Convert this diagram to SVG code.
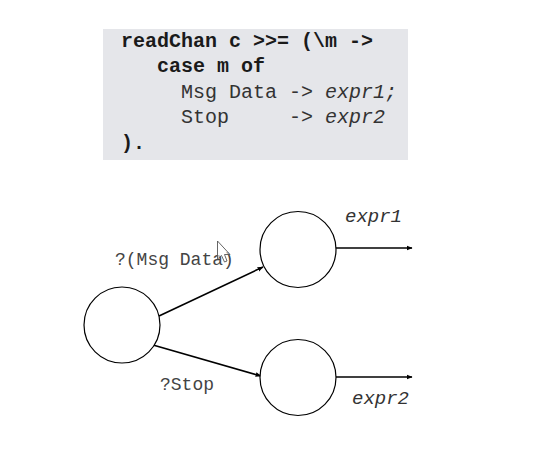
<svg xmlns="http://www.w3.org/2000/svg" width="550" height="468" viewBox="0 0 550 468">
<style>
.code{font-family:"Liberation Mono","Courier New",monospace;font-size:20px;fill:#333}
.b{font-weight:bold;fill:#1a1a1a}
.i{font-style:italic}
.lbl{font-family:"Liberation Mono","Courier New",monospace;font-size:18px;fill:#444}
.ex{font-family:"Liberation Mono","Courier New",monospace;font-size:19px;font-style:italic;fill:#333}
.node{fill:#fff;stroke:#000;stroke-width:1.2}
.edge{stroke:#000;stroke-width:1.6;fill:none;marker-end:url(#ah)}
</style>
<defs>
<marker id="ah" viewBox="0 0 10 10" refX="9" refY="5" markerWidth="6" markerHeight="6" markerUnits="userSpaceOnUse" orient="auto">
<path d="M0,1 L10,5 L0,9 z" fill="#000"/>
</marker>
</defs>
<rect width="550" height="468" fill="#fff"/>
<g id="code">
<rect x="103" y="29" width="305" height="131" fill="#e5e6ea"/>
<text class="code b" x="121" y="47" xml:space="preserve">readChan c &gt;&gt;= (\m -&gt;</text>
<text class="code b" x="157" y="72">case m of</text>
<text class="code" x="181" y="98" xml:space="preserve">Msg Data -&gt; <tspan class="i">expr1;</tspan></text>
<text class="code" x="181" y="123" xml:space="preserve">Stop     -&gt; <tspan class="i">expr2</tspan></text>
<text class="code b" x="121" y="149">).</text>
</g>
<g id="connectors">
<line class="edge" x1="159" y1="316" x2="263" y2="267"/>
<line class="edge" x1="153" y1="345" x2="261" y2="376"/>
<line class="edge" x1="336" y1="248" x2="412" y2="248"/>
<line class="edge" x1="336" y1="377" x2="412" y2="377"/>
</g>
<g id="n0"><circle class="node" cx="122" cy="325" r="38"/></g>
<g id="n1"><circle class="node" cx="298" cy="249.5" r="38"/></g>
<g id="n2"><circle class="node" cx="298" cy="377.5" r="38"/></g>
<g id="labels">
<text class="lbl" x="115" y="265">?(Msg Data)</text>
<text class="lbl" x="160" y="390">?Stop</text>
<text class="ex" x="345" y="222">expr1</text>
<text class="ex" x="352" y="404">expr2</text>
</g>
<path d="M217.5,241 L217.5,259 L221.5,255.5 L224.5,262 L227,261 L224.5,254.5 L230,254.5 Z" fill="#fff" fill-opacity="0.6" stroke="#555" stroke-width="0.9"/>
</svg>
